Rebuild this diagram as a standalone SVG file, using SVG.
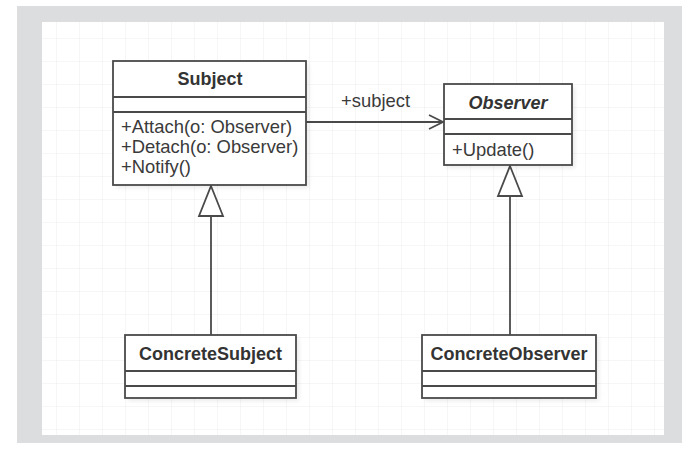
<svg xmlns="http://www.w3.org/2000/svg" width="692" height="455" viewBox="0 0 692 455">
<style>
  .box { fill: #ffffff; stroke: #4a4a4a; stroke-width: 1.8; }
  .div { stroke: #4a4a4a; stroke-width: 1.8; fill: none; }
  .title { font-family: "Liberation Sans", Arial, sans-serif; font-size: 18px; font-weight: bold; fill: #333333; text-anchor: middle; }
  .member { font-family: "Liberation Sans", Arial, sans-serif; font-size: 18.4px; fill: #3a3a3a; }
  .edge { stroke: #4a4a4a; stroke-width: 1.8; fill: none; }
  .head { stroke: #4a4a4a; stroke-width: 1.8; fill: #ffffff; }
  .shadow { fill: #000000; opacity: 0.08; }
</style>
<defs>
  <pattern id="grid" x="11" y="16" width="23" height="23" patternUnits="userSpaceOnUse">
    <path d="M23 0 V23 M0 23 H23" stroke="#ececec" stroke-width="1" fill="none"/>
  </pattern>
  <filter id="blur" x="-10%" y="-10%" width="120%" height="120%">
    <feGaussianBlur stdDeviation="2"/>
  </filter>
  <marker id="open" markerWidth="18" markerHeight="18" refX="15" refY="8" orient="auto" markerUnits="userSpaceOnUse">
    <path d="M1 1 L15 8 L1 15" stroke="#4a4a4a" stroke-width="1.8" fill="none"/>
  </marker>
</defs>
<rect x="0" y="0" width="692" height="455" fill="#ffffff"/>
<rect x="17" y="6" width="665" height="437" fill="#dcdddf"/>
<rect x="42" y="22" width="622" height="413" fill="#ffffff"/>
<rect x="42" y="22" width="622" height="413" fill="url(#grid)"/>

<g id="connectors">
  <line class="edge" x1="306" y1="122" x2="443" y2="122" marker-end="url(#open)"/>
  <text class="member" x="341" y="107">+subject</text>
  <path class="edge" d="M211 335 L211 216"/>
  <path class="head" d="M211 186 L223 216 L199 216 Z"/>
  <path class="edge" d="M510 335 L510 196"/>
  <path class="head" d="M510 166 L522 196 L498 196 Z"/>
</g>

<g id="Subject">
  <rect class="shadow" x="116" y="64" width="193" height="124" filter="url(#blur)"/>
  <rect class="box" x="113" y="61" width="193" height="124"/>
  <line class="div" x1="113" y1="97" x2="306" y2="97"/>
  <line class="div" x1="113" y1="112" x2="306" y2="112"/>
  <text class="title" x="210" y="85">Subject</text>
  <text class="member" x="121" y="133">+Attach(o: Observer)</text>
  <text class="member" x="121" y="153">+Detach(o: Observer)</text>
  <text class="member" x="121" y="173">+Notify()</text>
</g>

<g id="Observer">
  <rect class="shadow" x="447" y="87" width="128" height="81" filter="url(#blur)"/>
  <rect class="box" x="444" y="84" width="128" height="81"/>
  <line class="div" x1="444" y1="119" x2="572" y2="119"/>
  <line class="div" x1="444" y1="134" x2="572" y2="134"/>
  <text class="title" x="508" y="109" font-style="italic">Observer</text>
  <text class="member" x="452" y="156">+Update()</text>
</g>

<g id="ConcreteSubject">
  <rect class="shadow" x="128" y="338" width="171" height="63" filter="url(#blur)"/>
  <rect class="box" x="125" y="335" width="171" height="63"/>
  <line class="div" x1="125" y1="371" x2="296" y2="371"/>
  <line class="div" x1="125" y1="386" x2="296" y2="386"/>
  <text class="title" x="210.5" y="360">ConcreteSubject</text>
</g>

<g id="ConcreteObserver">
  <rect class="shadow" x="425" y="338" width="174" height="63" filter="url(#blur)"/>
  <rect class="box" x="422" y="335" width="174" height="63"/>
  <line class="div" x1="422" y1="371" x2="596" y2="371"/>
  <line class="div" x1="422" y1="386" x2="596" y2="386"/>
  <text class="title" x="509" y="360">ConcreteObserver</text>
</g>
</svg>
